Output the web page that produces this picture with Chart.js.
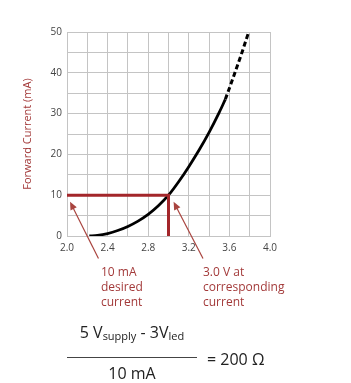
<!DOCTYPE html>
<html>
<head>
<meta charset="utf-8">
<script src="https://cdn.jsdelivr.net/npm/chart.js@4"></script>
<style>
  body { margin: 0; background: #fff; font-family: "Open Sans", sans-serif; }
  #wrap { position: relative; width: 351px; height: 383px; overflow: hidden; }
  #ledChart { position: absolute; left: 0; top: 0; }
  .note { position: absolute; color: #a33a3a; font-size: 12px; line-height: 15px; }
  .formula { position: absolute; color: #222; font-size: 16px; }
  .formula sub { font-size: 11px; vertical-align: -2px; }
  .num { position: absolute; left: 67px; top: 321px; width: 130px; text-align: center; white-space: nowrap; }
  .bar { position: absolute; left: 67px; top: 357px; width: 130px; height: 1px; background: #444; }
  .den { position: absolute; left: 67px; top: 362px; width: 130px; text-align: center; }
  .res { position: absolute; left: 207px; top: 348px; }
</style>
</head>
<body>
<div id="wrap">
  <canvas id="ledChart" width="351" height="315"></canvas>
  <div class="note" style="left:101px; top:264px;">10 mA<br>desired<br>current</div>
  <div class="note" style="left:203px; top:264px;">3.0 V at<br>corresponding<br>current</div>
  <div class="formula num">5 V<sub>supply</sub> - 3V<sub>led</sub></div>
  <div class="bar"></div>
  <div class="formula den">10 mA</div>
  <div class="formula res">= 200 &Omega;</div>
</div>
<script>
// Curva diodo: tratto continuo e tratto tratteggiato
const voltSolid = [2.22, 2.3, 2.4, 2.5, 2.6, 2.7, 2.8, 2.9, 3.0, 3.1, 3.2, 3.3, 3.4, 3.5, 3.56];
const currSolid = [0, 0.15, 0.6, 1.35, 2.35, 3.65, 5.3, 7.4, 10, 13.3, 17.0, 21.0, 25.4, 30.3, 33.5];
const voltDashed = [3.56, 3.64, 3.72, 3.79];
const currDashed = [33.5, 39, 44.7, 50];

// Linee rosse di riferimento (10 mA -> 3.0 V)
const refVolt = [2.0, 3.0, 3.0];
const refCurr = [10, 10, 0];

// Frecce delle note (coda -> punta, in V / mA)
const arrowFrom = [[2.31, -5.5], [3.34, -5.5]];
const arrowTo = [[2.03, 8.4], [3.05, 8.4]];

const xTicks = ['2.0', '2.4', '2.8', '3.2', '3.6', '4.0'];
const yTicks = ['0', '10', '20', '30', '40', '50'];

function toPoints(xs, ys) {
  return xs.map((x, i) => ({ x: x, y: ys[i] }));
}

const red = '#a3262a';

const extras = {
  id: 'extras',
  afterDatasetsDraw(chart) {
    const c = chart.ctx;
    const xs = chart.scales.x, ys = chart.scales.y;
    c.save();
    c.strokeStyle = '#a9443f';
    c.fillStyle = '#a9443f';
    c.lineWidth = 1.2;
    for (let i = 0; i < arrowFrom.length; i++) {
      const x1 = xs.getPixelForValue(arrowFrom[i][0]), y1 = ys.getPixelForValue(arrowFrom[i][1]);
      const x2 = xs.getPixelForValue(arrowTo[i][0]), y2 = ys.getPixelForValue(arrowTo[i][1]);
      const a = Math.atan2(y2 - y1, x2 - x1);
      c.beginPath();
      c.moveTo(x1, y1);
      c.lineTo(x2 - 5 * Math.cos(a), y2 - 5 * Math.sin(a));
      c.stroke();
      c.beginPath();
      c.moveTo(x2, y2);
      c.lineTo(x2 - 8 * Math.cos(a) + 3.5 * Math.sin(a), y2 - 8 * Math.sin(a) - 3.5 * Math.cos(a));
      c.lineTo(x2 - 8 * Math.cos(a) - 3.5 * Math.sin(a), y2 - 8 * Math.sin(a) + 3.5 * Math.cos(a));
      c.closePath();
      c.fill();
    }
    // titolo asse y
    c.translate(28, (chart.chartArea.top + chart.chartArea.bottom) / 2);
    c.rotate(-Math.PI / 2);
    c.fillStyle = '#a33a3a';
    c.font = '11px "Open Sans"';
    c.textAlign = 'center';
    c.textBaseline = 'middle';
    c.fillText('Forward Current (mA)', 0, 0);
    c.restore();
  }
};

const ctx = document.getElementById('ledChart').getContext('2d');
const chart = new Chart(ctx, {
  type: 'line',
  data: {
    datasets: [{
      data: toPoints(refVolt, refCurr),
      borderColor: red,
      borderWidth: 3,
      pointRadius: 0,
      tension: 0,
      order: 0
    }, {
      data: toPoints(voltSolid, currSolid),
      borderColor: '#000',
      borderWidth: 2.8,
      pointRadius: 0,
      cubicInterpolationMode: 'monotone',
      order: 1
    }, {
      data: toPoints(voltDashed, currDashed),
      borderColor: '#000',
      borderWidth: 3,
      borderDash: [5, 3],
      pointRadius: 0,
      cubicInterpolationMode: 'monotone',
      order: 1
    }]
  },
  options: {
    responsive: false,
    animation: false,
    layout: { padding: { top: 32, right: 81, left: 0, bottom: 0 } },
    plugins: { legend: { display: false }, tooltip: { enabled: false } },
    scales: {
      x: {
        type: 'linear',
        min: 2.0,
        max: 4.0,
        afterFit(s) { s.height = 79; },
        grid: { color: '#c4c4c4', drawTicks: false },
        border: { color: '#c4c4c4' },
        ticks: {
          stepSize: 0.2,
          padding: 6,
          color: '#444',
          font: { size: 10, family: '"Open Sans"' },
          maxRotation: 0,
          autoSkip: false,
          callback: (v) => {
            const k = Math.round((v - 2) * 10);
            return k % 4 === 0 ? xTicks[k / 4] : '';
          }
        }
      },
      y: {
        min: 0,
        max: 50,
        afterFit(s) { s.width = 67; },
        grid: { color: '#c4c4c4', drawTicks: false },
        border: { color: '#c4c4c4' },
        ticks: {
          stepSize: 5,
          padding: 5,
          color: '#444',
          font: { size: 10, family: '"Open Sans"' },
          callback: (v) => (v % 10 === 0 ? yTicks[v / 10] : '')
        }
      }
    }
  },
  plugins: [extras]
});
</script>
</body>
</html>
